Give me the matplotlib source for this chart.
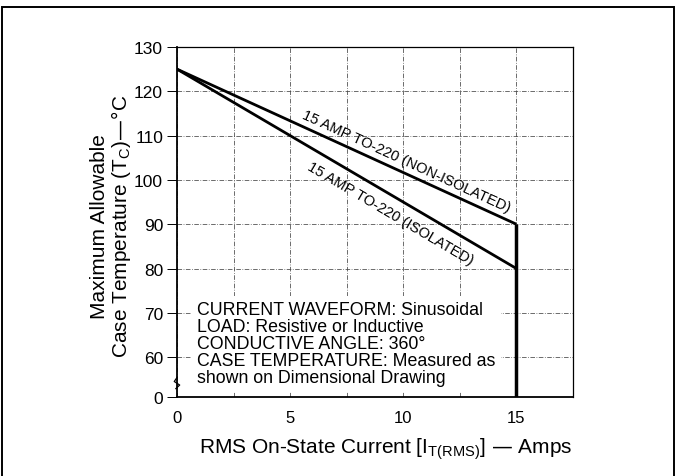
import numpy as np
import matplotlib
matplotlib.use("Agg")
import matplotlib.pyplot as plt
from matplotlib.patches import Rectangle

plt.rcParams['font.family'] = ['Liberation Sans', 'DejaVu Sans']

# data
currents = [0, 15]
temp_non_isolated = [125, 90]
temp_isolated = [125, 80]

x_ticks = [0, 5, 10, 15]
y_ticks = [60, 70, 80, 90, 100, 110, 120, 130]
y_floor = 51          # where the broken axis puts the "0"
x_max = 17.5

label_non_iso = "15 AMP TO-220 (NON-ISOLATED)"
label_iso = "15 AMP TO-220 (ISOLATED)"
notes = ("CURRENT WAVEFORM: Sinusoidal\n"
         "LOAD: Resistive or Inductive\n"
         "CONDUCTIVE ANGLE: 360\u00b0\n"
         "CASE TEMPERATURE: Measured as\n"
         "shown on Dimensional Drawing")

fig = plt.figure(figsize=(6.76, 4.77), dpi=100)
ax = fig.add_axes([0.2618, 0.1656, 0.5858, 0.7338])

ax.set_xlim(0, x_max)
ax.set_ylim(y_floor, 130)

# grid: every 2.5 A and every 10 degC
ax.set_xticks(x_ticks)
ax.set_xticks([2.5, 7.5, 12.5], minor=True)
ax.set_yticks([y_floor] + y_ticks)
ax.set_yticklabels(["0"] + [str(v) for v in y_ticks])
ax.grid(True, which='both', color='#444444', lw=0.55, ls=(0, (6, 2, 1, 2)))
ax.set_axisbelow(True)

ax.tick_params(axis='y', direction='out', length=7, width=0.7, labelsize=12.5, pad=3)
ax.tick_params(axis='x', which='both', length=0, labelsize=12, pad=9)

for side in ['top', 'right']:
    ax.spines[side].set_linewidth(0.9)
ax.spines['left'].set_linewidth(1.3)
ax.spines['bottom'].set_linewidth(1.3)

# curves
ax.plot(currents, temp_non_isolated, color='black', lw=2, solid_capstyle='butt')
ax.plot(currents, temp_isolated, color='black', lw=2, solid_capstyle='butt')
ax.vlines(currents[-1], y_floor, temp_non_isolated[-1], color='black', lw=2.5)

# rotated curve labels, angle taken from the drawn lines
def line_angle(xs, ys):
    p = ax.transData.transform(np.column_stack([xs, ys]))
    return np.degrees(np.arctan2(p[1, 1] - p[0, 1], p[1, 0] - p[0, 0]))

ang1 = line_angle(currents, temp_non_isolated)
ang2 = line_angle(currents, temp_isolated)
ax.text(10.15, 104.2, label_non_iso, rotation=ang1, rotation_mode='anchor',
        ha='center', va='center', fontsize=10.5)
ax.text(9.45, 92.5, label_iso, rotation=ang2, rotation_mode='anchor',
        ha='center', va='center', fontsize=10.5)

# conditions box
ax.text(0.88, 72.6, notes, ha='left', va='top', fontsize=12.8, linespacing=1.0,
        bbox=dict(facecolor='white', edgecolor='none', pad=4))

# axis break mark
bx = [0, -0.12, 0.12, -0.05]
by = [55.4, 54.5, 53.7, 52.9]
ax.plot(bx, by, color='black', lw=0.9, clip_on=False)

ax.set_xlabel("RMS On-State Current [I$_{\\mathregular{T(RMS)}}$] \u2014 Amps",
              fontsize=15, va='top')
ax.xaxis.set_label_coords(0.528, -0.11)
ax.set_ylabel("Maximum Allowable\nCase Temperature (T$_{\\mathregular{C}}$)\u2014\u00b0C",
              fontsize=15, linespacing=1.0)
ax.yaxis.set_label_coords(-0.112, 0.49)

# outer frame of the datasheet figure
fig.patches.append(Rectangle((0.003, -0.05), 0.994, 1.033, transform=fig.transFigure,
                             fill=False, lw=1.4, edgecolor='black'))

fig.savefig("out.png", dpi=100)
